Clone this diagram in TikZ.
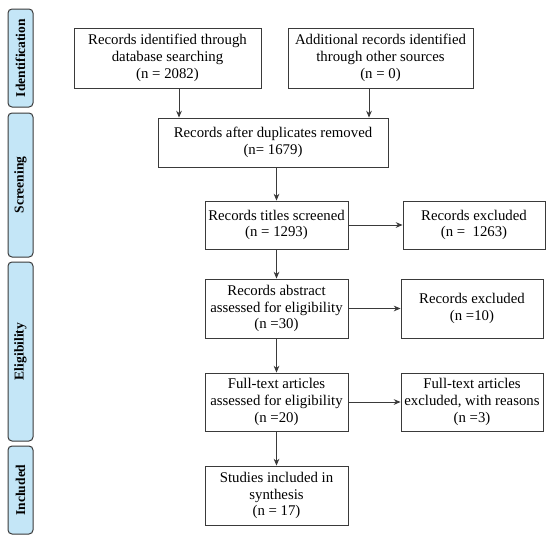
\documentclass[tikz,border=0pt]{standalone}
\usepackage{fontspec}
\setmainfont{Liberation Serif}
\usetikzlibrary{arrows.meta,positioning,calc}
\definecolor{prismaphase}{HTML}{C4E6F7}
\definecolor{prismaline}{HTML}{3A3A3A}

\begin{document}
\begin{tikzpicture}[x=1pt,y=-1pt,
  box/.style={draw=prismaline,fill=white,line width=0.9pt,align=center,
              inner sep=2pt,font=\fontsize{14.8}{16.8}\selectfont},
  phase/.style={draw=prismaline,fill=prismaphase,rounded corners=4pt,
              line width=1pt,rotate=90,minimum height=25pt,inner sep=0pt,
              font=\fontsize{13.5}{15}\selectfont\bfseries},
  arr/.style={-{Stealth[length=2.4mm,width=2mm]},line width=0.9pt,prismaline}]
  \useasboundingbox (0,0) rectangle (550,538);
  % phases on the left
  \node[phase,minimum width=98pt]  (pid)  at (20.5,58)  {Identification};
  \node[phase,minimum width=144pt] (pscr) at (20.5,185) {Screening};
  \node[phase,minimum width=179pt] (pelg) at (20.5,351.5) {Eligibility};
  \node[phase,minimum width=88pt]  (pinc) at (20.5,490) {Included};
  % main flow
  \node[box,minimum width=187pt,minimum height=60pt] (srch) at (167.5,58)
       {Records identified through\\database searching\\(n = 2082)};
  \node[box,minimum width=185pt,minimum height=60pt] (othr) at (380.5,58)
       {Additional records identified\\through other sources\\(n = 0)};
  \node[box,minimum width=230pt,minimum height=49pt] (dupl) at (273,142.5)
       {Records after duplicates removed\\(n= 1679)};
  \node[box,minimum width=143pt,minimum height=48pt] (titl) at (276.5,225)
       {Records titles screened\\(n = 1293)};
  \node[box,minimum width=142pt,minimum height=48pt] (exta) at (474,225)
       {Records excluded\\(n =\ \ 1263)};
  \node[box,minimum width=143pt,minimum height=59pt] (abst) at (276.5,308.5)
       {Records abstract\\assessed for eligibility\\(n =30)};
  \node[box,minimum width=142pt,minimum height=59pt] (extb) at (472,308.5)
       {Records excluded\\(n =10)};
  \node[box,minimum width=143pt,minimum height=58pt] (full) at (276.5,402)
       {Full-text articles\\assessed for eligibility\\(n =20)};
  \node[box,minimum width=142pt,minimum height=58pt] (extc) at (472,402)
       {Full-text articles\\excluded, with reasons\\(n =3)};
  \node[box,minimum width=143pt,minimum height=59pt] (stud) at (276.5,495.5)
       {Studies included in\\synthesis\\(n = 17)};
  % connectors
  \draw[arr] ([xshift=11.5pt]srch.south) -- ([xshift=11.5pt]srch.south |- dupl.north);
  \draw[arr] ([xshift=-11.5pt]othr.south) -- ([xshift=-11.5pt]othr.south |- dupl.north);
  \draw[arr] (titl.north |- dupl.south) -- (titl.north);
  \draw[arr] (titl) -- (exta);
  \draw[arr] (titl) -- (abst);
  \draw[arr] (abst) -- (extb);
  \draw[arr] (abst) -- (full);
  \draw[arr] (full) -- (extc);
  \draw[arr] (full) -- (stud);
\end{tikzpicture}
\end{document}
